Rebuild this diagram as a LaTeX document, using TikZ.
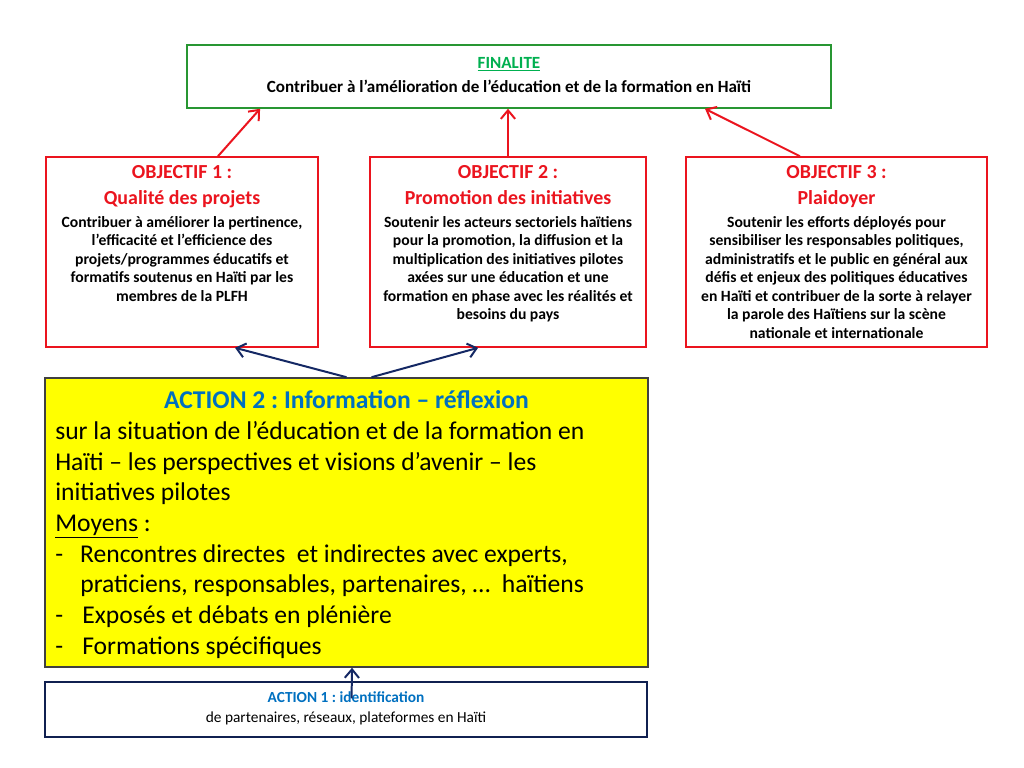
\documentclass[tikz,border=0pt]{standalone}
\usepackage{fontspec}
\setmainfont{Carlito}
\frenchspacing
\usetikzlibrary{arrows.meta, positioning, fit}
\definecolor{plfhgreen}{RGB}{0,176,80}
\definecolor{plfhframe}{RGB}{40,150,50}
\definecolor{plfhred}{RGB}{235,20,30}
\definecolor{plfhnavy}{RGB}{20,40,100}
\definecolor{plfhblue}{RGB}{0,112,192}
\definecolor{plfhyellow}{RGB}{255,255,0}

\begin{document}
\begin{tikzpicture}[x=0.703pt, y=-0.703pt,
  finbox/.style={draw=plfhframe, line width=1.1pt, inner sep=0pt},
  objbox/.style={draw=plfhred, line width=1.1pt, inner sep=0pt},
  actbox/.style={draw=plfhnavy!80!black, line width=1.1pt, inner sep=0pt},
  txt/.style={inner sep=0pt, align=center},
  objtitle/.style={txt, font=\fontsize{14}{18.3}\selectfont\bfseries, text=plfhred},
  objbody/.style={txt, font=\fontsize{11}{13}\selectfont\bfseries},
  redarrow/.style={-{Straight Barb[length=6pt, width=10pt]}, plfhred, line width=1.4pt},
  bluearrow/.style={-{Straight Barb[length=6pt, width=10pt]}, plfhnavy, line width=1.4pt}]
  \useasboundingbox[fill=white] (0,0) rectangle (1024,768);
  % finalite
  \node[finbox, fit={(187,45) (831,108)}] (fin) {};
  \node[txt, font=\fontsize{12}{16.5}\selectfont\bfseries, below=9.2pt of fin.north] (fintxt)
    {\textcolor{plfhgreen}{\underline{FINALITE}}\\
     Contribuer à l’amélioration de l’éducation et de la formation en Haïti};
  % objectifs
  \node[objbox, fit={(46,157) (318,347)}] (obj1) {};
  \node[objbox, fit={(370,157) (646,347)}] (obj2) {};
  \node[objbox, fit={(686,157) (987,347)}] (obj3) {};
  \node[objtitle, below=6pt of obj1.north] (obj1title) {OBJECTIF 1 :\\ Qualité des projets};
  \node[objbody, below=42pt of obj1.north] (obj1body) {Contribuer à améliorer la pertinence,\\
    l’efficacité et l’efficience des\\ projets/programmes éducatifs et\\
    formatifs soutenus en Haïti par les\\ membres de la PLFH};
  \node[objtitle, below=6pt of obj2.north] (obj2title) {OBJECTIF 2 :\\ Promotion des initiatives};
  \node[objbody, below=42pt of obj2.north] (obj2body) {Soutenir les acteurs sectoriels haïtiens\\
    pour la promotion, la diffusion et la\\ multiplication des initiatives pilotes\\
    axées sur une éducation et une\\ formation en phase avec les réalités et\\
    besoins du pays};
  \node[objtitle, below=6pt of obj3.north] (obj3title) {OBJECTIF 3 :\\ Plaidoyer};
  \node[objbody, below=42pt of obj3.north] (obj3body) {Soutenir les efforts déployés pour\\
    sensibiliser les responsables politiques,\\ administratifs et le public en général aux\\
    défis et enjeux des politiques éducatives\\ en Haïti et contribuer de la sorte à relayer\\
    la parole des Haïtiens sur la scène\\ nationale et internationale};
  % action 2
  \node[actbox, fill=plfhyellow, draw=black!75, fit={(45,378) (648,667)}] (act2) {};
  \node[txt, font=\fontsize{18}{21.6}\selectfont\bfseries, text=plfhblue, below=9pt of act2.north] (act2title)
    {ACTION 2 : Information – réflexion};
  \node[inner sep=0pt, align=left, anchor=north west, font=\fontsize{18}{21.6}\selectfont]
    (act2body) at (55,421)
    {sur la situation de l’éducation et de la formation en\\
     Haïti – les perspectives et visions d’avenir – les\\
     initiatives pilotes\\
     \underline{Moyens} :\\
     -\hspace{12pt}Rencontres directes\ \ et indirectes avec experts,\\
     \hspace{17.6pt}praticiens, responsables, partenaires, …\ \ haïtiens\\
     -\hspace{13.5pt}Exposés et débats en plénière\\
     -\hspace{13.5pt}Formations spécifiques};
  % action 1
  \node[actbox, fit={(45,682) (647,737)}] (act1) {};
  \node[txt, font=\fontsize{10.8}{13.4}\selectfont, below=7.5pt of act1.north] (act1txt)
    {\textcolor{plfhblue}{\bfseries ACTION 1 : identification}\\
     de partenaires, réseaux, plateformes en Haïti};
  % fleches
  \draw[redarrow] ([xshift=25.3pt]obj1.north) -- ([xshift=-175pt]fin.south);
  \draw[redarrow] (obj2.north) -- (obj2.north |- fin.south);
  \draw[redarrow] ([xshift=-25.7pt]obj3.north) -- ([xshift=137.8pt]fin.south);
  \draw[bluearrow] (act2.north) -- ([xshift=37.3pt]obj1.south);
  \draw[bluearrow] ([xshift=17.6pt]act2.north) -- ([xshift=-21pt]obj2.south);
  \draw[bluearrow] ([xshift=3.9pt, yshift=-12pt]act1.north) -- ([xshift=3.9pt]act2.south);
\end{tikzpicture}
\end{document}
